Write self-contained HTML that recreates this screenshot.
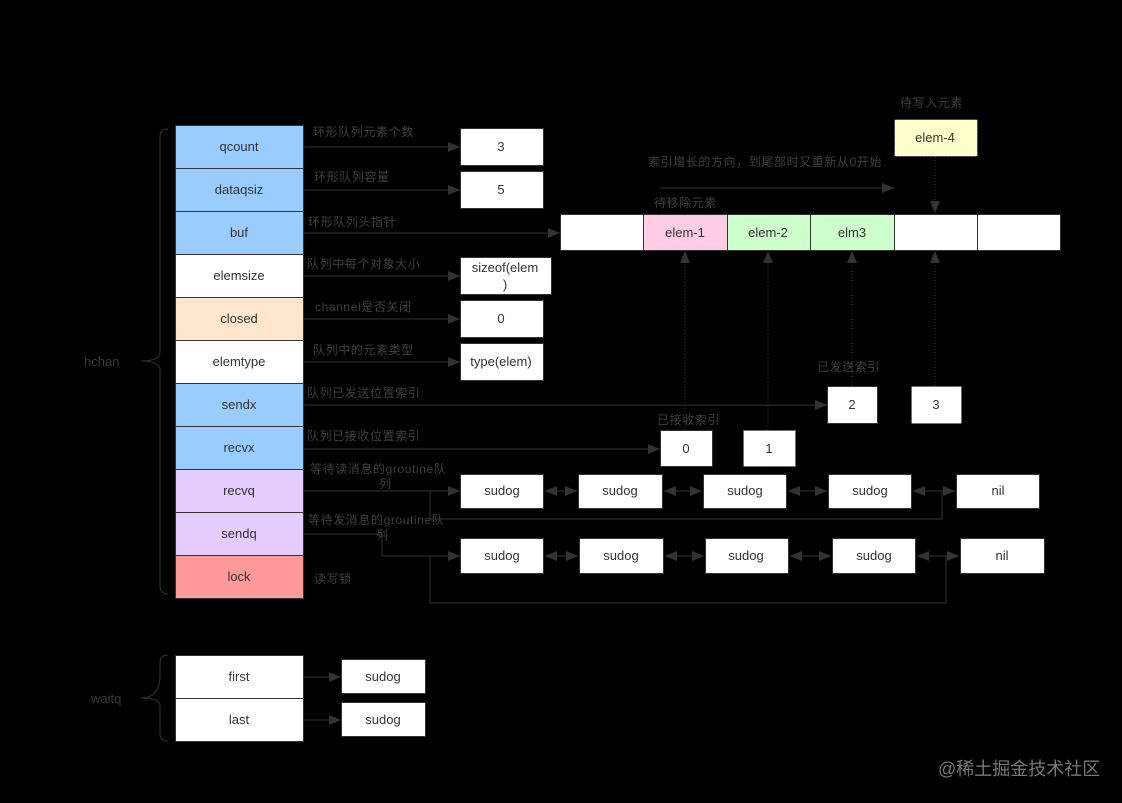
<!DOCTYPE html>
<html><head><meta charset="utf-8"><style>
html,body{margin:0;padding:0;background:#000;}
svg{display:block;}
text{font-family:"Liberation Sans","Noto Sans CJK SC",sans-serif;}
.b{font-size:13px;fill:#333;text-anchor:middle;}
.l{font-size:12px;fill:#3f3f3f;letter-spacing:0.6px;font-family:"Liberation Serif","Noto Sans CJK SC",serif;}
</style></head><body>
<svg width="1122" height="803" viewBox="0 0 1122 803" xmlns="http://www.w3.org/2000/svg">
<defs>
<marker id="a" markerWidth="12" markerHeight="10" refX="12" refY="5" orient="auto" markerUnits="userSpaceOnUse"><path d="M0,0 L12,5 L0,10 Z" fill="#333"/></marker>
<marker id="s" markerWidth="12" markerHeight="10" refX="0" refY="5" orient="auto" markerUnits="userSpaceOnUse"><path d="M12,0 L0,5 L12,10 Z" fill="#333"/></marker>
</defs>
<rect width="1122" height="803" fill="#000"/>
<g stroke="#333" stroke-width="1">
<rect x="175.5" y="125.5" width="128" height="43" fill="#99ccff"/>
<rect x="175.5" y="168.5" width="128" height="43" fill="#99ccff"/>
<rect x="175.5" y="211.5" width="128" height="43" fill="#99ccff"/>
<rect x="175.5" y="254.5" width="128" height="43" fill="#fff"/>
<rect x="175.5" y="297.5" width="128" height="43" fill="#ffe6cc"/>
<rect x="175.5" y="340.5" width="128" height="43" fill="#fff"/>
<rect x="175.5" y="383.5" width="128" height="43" fill="#99ccff"/>
<rect x="175.5" y="426.5" width="128" height="43" fill="#99ccff"/>
<rect x="175.5" y="469.5" width="128" height="43" fill="#e5ccff"/>
<rect x="175.5" y="512.5" width="128" height="43" fill="#e5ccff"/>
<rect x="175.5" y="555.5" width="128" height="43" fill="#ff9999"/>
<rect x="460.5" y="128.5" width="83" height="37" fill="#fff"/>
<rect x="460.5" y="171.5" width="83" height="37" fill="#fff"/>
<rect x="460.5" y="257.5" width="91" height="37" fill="#fff"/>
<rect x="460.5" y="300.5" width="83" height="37" fill="#fff"/>
<rect x="460.5" y="343.5" width="83" height="37" fill="#fff"/>
<line x1="304" y1="147" x2="460" y2="147" marker-end="url(#a)"/>
<line x1="304" y1="190" x2="460" y2="190" marker-end="url(#a)"/>
<line x1="304" y1="233" x2="560" y2="233" marker-end="url(#a)"/>
<line x1="304" y1="276" x2="460" y2="276" marker-end="url(#a)"/>
<line x1="304" y1="319" x2="460" y2="319" marker-end="url(#a)"/>
<line x1="304" y1="362" x2="460" y2="362" marker-end="url(#a)"/>
<line x1="304" y1="405" x2="827" y2="405" marker-end="url(#a)"/>
<line x1="304" y1="449" x2="660" y2="449" marker-end="url(#a)"/>
<rect x="560.5" y="214.5" width="83" height="36" fill="#fff"/>
<rect x="643.5" y="214.5" width="84" height="36" fill="#ffcce6"/>
<rect x="727.5" y="214.5" width="83" height="36" fill="#ccffcc"/>
<rect x="810.5" y="214.5" width="84" height="36" fill="#ccffcc"/>
<rect x="894.5" y="214.5" width="83" height="36" fill="#fff"/>
<rect x="977.5" y="214.5" width="83" height="36" fill="#fff"/>
<rect x="894.5" y="119.5" width="83" height="37" fill="#ffffcc" stroke-dasharray="2,1"/>
<line x1="660" y1="188" x2="894" y2="188" marker-end="url(#a)"/>
<g stroke-dasharray="1,2"><line x1="935" y1="157" x2="935" y2="213" marker-end="url(#a)"/>
<line x1="685" y1="430" x2="685" y2="251" marker-end="url(#a)"/>
<line x1="768" y1="430" x2="768" y2="251" marker-end="url(#a)"/>
<line x1="852" y1="386" x2="852" y2="251" marker-end="url(#a)"/>
<line x1="935" y1="386" x2="935" y2="251" marker-end="url(#a)"/></g>
<rect x="827.5" y="386.5" width="50" height="37" fill="#fff"/>
<rect x="911.5" y="386.5" width="50" height="37" fill="#fff" stroke="#666" stroke-dasharray="2,1"/>
<rect x="660.5" y="430.5" width="52" height="36" fill="#fff"/>
<rect x="743.5" y="430.5" width="52" height="36" fill="#fff" stroke="#666" stroke-dasharray="2,1"/>
<polyline points="304,491 460,491" fill="none" marker-end="url(#a)"/>
<polyline points="430,491 430,519 942,519 942,491" fill="none"/>
<rect x="460.5" y="474.5" width="83" height="34" fill="#fff"/>
<rect x="578.5" y="474.5" width="84" height="34" fill="#fff"/>
<rect x="703.5" y="474.5" width="83" height="34" fill="#fff"/>
<rect x="828.5" y="474.5" width="83" height="34" fill="#fff"/>
<rect x="956.5" y="474.5" width="83" height="34" fill="#fff"/>
<line x1="545" y1="491" x2="577" y2="491" marker-start="url(#s)" marker-end="url(#a)"/>
<line x1="664" y1="491" x2="702" y2="491" marker-start="url(#s)" marker-end="url(#a)"/>
<line x1="788" y1="491" x2="827" y2="491" marker-start="url(#s)" marker-end="url(#a)"/>
<line x1="913" y1="491" x2="955" y2="491" marker-start="url(#s)" marker-end="url(#a)"/>
<polyline points="304,534 382,534 382,556 460,556" fill="none" marker-end="url(#a)"/>
<polyline points="430,556 430,603 946,603 946,556" fill="none"/>
<rect x="460.5" y="538.5" width="83" height="35" fill="#fff"/>
<rect x="579.5" y="538.5" width="84" height="35" fill="#fff"/>
<rect x="705.5" y="538.5" width="83" height="35" fill="#fff"/>
<rect x="832.5" y="538.5" width="83" height="35" fill="#fff"/>
<rect x="960.5" y="538.5" width="84" height="35" fill="#fff"/>
<line x1="545" y1="556" x2="578" y2="556" marker-start="url(#s)" marker-end="url(#a)"/>
<line x1="665" y1="556" x2="704" y2="556" marker-start="url(#s)" marker-end="url(#a)"/>
<line x1="790" y1="556" x2="831" y2="556" marker-start="url(#s)" marker-end="url(#a)"/>
<line x1="917" y1="556" x2="959" y2="556" marker-start="url(#s)" marker-end="url(#a)"/>
<rect x="175.5" y="655.5" width="128" height="43" fill="#fff"/>
<rect x="175.5" y="698.5" width="128" height="43" fill="#fff"/>
<rect x="341.5" y="659.5" width="84" height="34" fill="#fff"/>
<rect x="341.5" y="702.5" width="84" height="34" fill="#fff"/>
<line x1="304" y1="677" x2="341" y2="677" marker-end="url(#a)"/>
<line x1="304" y1="720" x2="341" y2="720" marker-end="url(#a)"/>
<path d="M168,129 Q160,129 160,137 L160,352 Q160,361 141,361 Q160,361 160,370 L160,586 Q160,594 168,594" fill="none"/>
<path d="M168,655 Q160,655 160,663 L160,675 Q160,698 141,698 Q160,698 160,706 L160,733 Q160,741 168,741" fill="none"/>
</g>
<g class="b">
<text x="239" y="151">qcount</text><text x="239" y="194">dataqsiz</text><text x="239" y="237">buf</text>
<text x="239" y="280">elemsize</text><text x="239" y="323">closed</text><text x="239" y="366">elemtype</text>
<text x="239" y="409">sendx</text><text x="239" y="452">recvx</text><text x="239" y="495">recvq</text>
<text x="239" y="538">sendq</text><text x="239" y="581">lock</text>
<text x="501" y="151">3</text><text x="501" y="194">5</text>
<text x="505" y="272">sizeof(elem</text><text x="505" y="289">)</text>
<text x="501" y="323">0</text><text x="501" y="366">type(elem)</text>
<text x="685" y="237">elem-1</text><text x="768" y="237">elem-2</text><text x="852" y="237">elm3</text>
<text x="935" y="142">elem-4</text>
<text x="852" y="409">2</text><text x="936" y="409">3</text>
<text x="686" y="453">0</text><text x="769" y="453">1</text>
<text x="502" y="495">sudog</text><text x="620" y="495">sudog</text><text x="745" y="495">sudog</text><text x="870" y="495">sudog</text><text x="998" y="495">nil</text>
<text x="502" y="560">sudog</text><text x="621" y="560">sudog</text><text x="746" y="560">sudog</text><text x="874" y="560">sudog</text><text x="1002" y="560">nil</text>
<text x="239" y="681">first</text><text x="239" y="724">last</text>
<text x="383" y="681">sudog</text><text x="383" y="724">sudog</text>
</g>
<g class="l">
<text x="313" y="136">环形队列元素个数</text>
<text x="314" y="181">环形队列容量</text>
<text x="308" y="226">环形队列头指针</text>
<text x="307" y="268">队列中每个对象大小</text>
<text x="315" y="311">channel是否关闭</text>
<text x="313" y="354">队列中的元素类型</text>
<text x="307" y="397">队列已发送位置索引</text>
<text x="307" y="440">队列已接收位置索引</text>
<text x="310" y="473">等待读消息的groutine队</text><text x="379" y="488">列</text>
<text x="308" y="524">等待发消息的groutine队</text><text x="376" y="539">列</text>
<text x="314" y="583">读写锁</text>
<text x="648" y="166">索引增长的方向，到尾部时又重新从0开始</text>
<text x="654" y="207">待移除元素</text>
<text x="900" y="107">待写入元素</text>
<text x="817" y="371">已发送索引</text>
<text x="657" y="424">已接收索引</text>
</g>
<text x="84" y="366" style="font-size:13px;fill:#3a3a3a">hchan</text>
<text x="91" y="703" style="font-size:13px;fill:#3a3a3a">waitq</text>
<text x="938" y="775" style="font-size:18px;fill:#777;font-family:'Liberation Sans','Noto Sans CJK SC',sans-serif">@稀土掘金技术社区</text>
</svg>
</body></html>
